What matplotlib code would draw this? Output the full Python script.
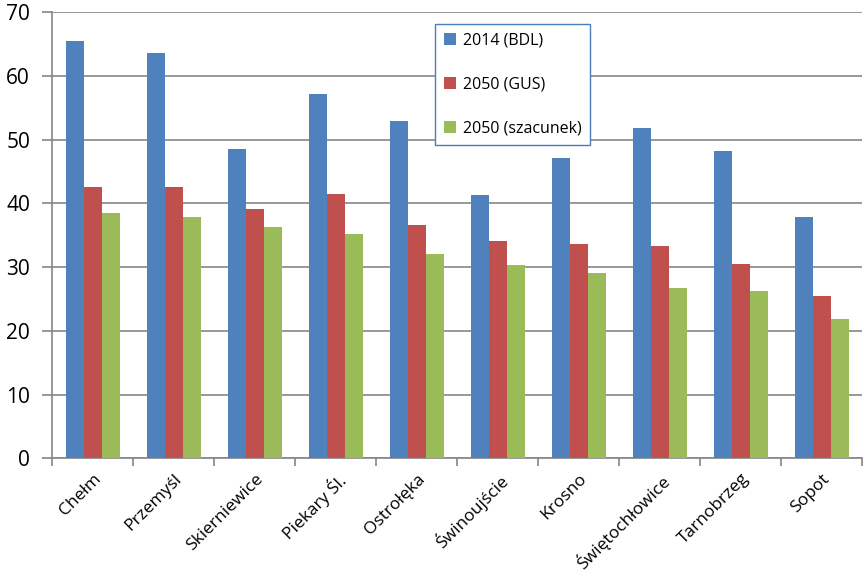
import numpy as np
import matplotlib.pyplot as plt

cities = ["Chełm", "Przemyśl", "Skierniewice", "Piekary Śl.", "Ostrołęka",
          "Świnoujście", "Krosno", "Świętochłowice", "Tarnobrzeg", "Sopot"]
bdl_2014 = [65.5, 63.6, 48.6, 57.2, 53.0, 41.3, 47.2, 51.9, 48.3, 37.9]
gus_2050 = [42.6, 42.6, 39.1, 41.5, 36.6, 34.1, 33.7, 33.3, 30.5, 25.5]
est_2050 = [38.5, 37.9, 36.3, 35.2, 32.1, 30.4, 29.1, 26.8, 26.2, 21.9]
labels = ["2014 (BDL)", "2050 (GUS)", "2050 (szacunek)"]
colors = ["#4F81BD", "#C0504D", "#9BBB59"]

plt.rcParams['font.family'] = ['Open Sans', 'DejaVu Sans']

fig = plt.figure(figsize=(8.67, 5.81), dpi=100)
ax = fig.add_axes([0.0603, 0.2112, 0.9343, 0.7676])

x = np.arange(len(cities))
w = 0.222
for i, vals in enumerate([bdl_2014, gus_2050, est_2050]):
    ax.bar(x + (i - 1) * w, vals, width=w, color=colors[i], label=labels[i], zorder=3)

ax.set_xlim(-0.5, len(cities) - 0.5)
ax.set_ylim(0, 70)
ax.set_yticks(range(0, 71, 10))
ax.yaxis.grid(True, color="#868686", linewidth=1.2, zorder=0)

ax.set_xticks(np.arange(-0.5, len(cities), 1.0))
ax.set_xticklabels([])
ax.set_xticks(x, minor=True)
ax.set_xticklabels(cities, minor=True, rotation=45, ha='right',
                   rotation_mode='anchor', fontsize=12.5)
ax.tick_params(axis='x', which='minor', length=0, pad=9)
ax.tick_params(axis='x', which='major', length=6, color="#868686", width=1.2)
ax.tick_params(axis='y', length=7, color="#868686", width=1.2, labelsize=15, pad=9)

for s in ['top', 'right']:
    ax.spines[s].set_visible(False)
for s in ['left', 'bottom']:
    ax.spines[s].set_color("#868686")
    ax.spines[s].set_linewidth(1.2)

leg = ax.legend(loc='upper left', bbox_to_anchor=(0.5017, 0.9587),
                bbox_transform=fig.transFigure, fontsize=11.5,
                handlelength=0.75, handleheight=0.75, handletextpad=0.45,
                labelspacing=1.75, borderpad=0.55, borderaxespad=0,
                fancybox=False, framealpha=1, edgecolor="#4A7EBB")
leg.get_frame().set_linewidth(1.0)

fig.savefig("out.png", dpi=100)
